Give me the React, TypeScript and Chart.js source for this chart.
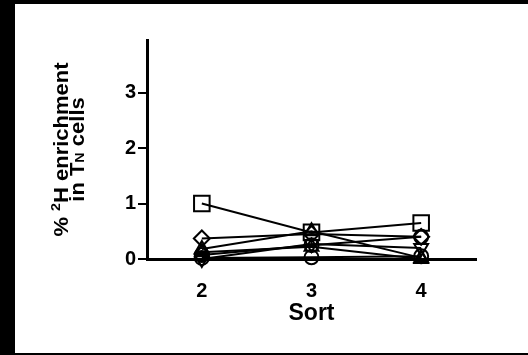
import React, { useEffect, useRef } from 'react';
import { Chart, registerables } from 'chart.js';

Chart.register(...registerables);

const sorts = [2, 3, 4];
const yTickValues = [0, 1, 2, 3];

const squareSeries = [1.0, 0.48, 0.65];
const diamondSeries = [0.37, 0.45, 0.4];
const triUpSeries = [0.18, 0.5, 0.02];
const triDownSeries = [0.0, 0.27, 0.2];
const circleSeries = [0.07, 0.25, 0.4];
const circle2Series = [0.02, 0.03, 0.05];
const tri2Series = [0.12, 0.22, 0.0];

const FAM = '"Liberation Sans", Arial, Helvetica, sans-serif';

export default function App() {
  const ref = useRef<HTMLCanvasElement>(null);

  useEffect(() => {
    if (!ref.current) return;
    const mk = (vals: number[], style: string, radius: number, rotation = 0) => ({
      data: sorts.map((x, i) => ({ x, y: vals[i] })),
      pointStyle: style,
      pointRadius: radius,
      pointRotation: rotation,
      borderColor: '#000',
      backgroundColor: 'rgba(0,0,0,0)',
      pointBorderColor: '#000',
      pointBackgroundColor: 'rgba(0,0,0,0)',
      pointBorderWidth: 2,
      borderWidth: 2,
      clip: false,
      tension: 0,
    });

    const yTitle = {
      id: 'yTitle',
      afterDraw(chart: any) {
        const ctx = chart.ctx as CanvasRenderingContext2D;
        const cy = (chart.chartArea.top + chart.chartArea.bottom) / 2;
        const big = `bold 20px ${FAM}`;
        const small = `bold 13px ${FAM}`;
        const drawLine = (segs: { t: string; f: string; dy: number }[], v: number) => {
          let total = 0;
          for (const s of segs) {
            ctx.font = s.f;
            total += ctx.measureText(s.t).width;
          }
          let u = -total / 2;
          for (const s of segs) {
            ctx.font = s.f;
            ctx.fillText(s.t, u, v + s.dy);
            u += ctx.measureText(s.t).width;
          }
        };
        ctx.save();
        ctx.fillStyle = '#000';
        ctx.textBaseline = 'alphabetic';
        ctx.textAlign = 'left';
        ctx.translate(0, cy);
        ctx.rotate(-Math.PI / 2);
        ctx.scale(1.1, 1);
        drawLine(
          [
            { t: '% ', f: big, dy: 0 },
            { t: '2', f: small, dy: -8 },
            { t: 'H enrichment', f: big, dy: 0 },
          ],
          68
        );
        drawLine(
          [
            { t: 'in T', f: big, dy: 0 },
            { t: 'N', f: small, dy: 0 },
            { t: ' cells', f: big, dy: 0 },
          ],
          84
        );
        ctx.restore();
      },
    };

    const chart = new Chart(ref.current, {
      type: 'line',
      data: {
        datasets: [
          mk(squareSeries, 'rect', 11),
          mk(diamondSeries, 'rectRot', 8),
          mk(triUpSeries, 'triangle', 8),
          mk(triDownSeries, 'triangle', 8, 180),
          mk(circleSeries, 'circle', 7),
          mk(circle2Series, 'circle', 7),
          mk(tri2Series, 'triangle', 8),
        ] as any,
      },
      options: {
        responsive: false,
        animation: false,
        devicePixelRatio: 1,
        layout: { padding: { left: 0, top: 40, right: 52, bottom: 0 } },
        plugins: { legend: { display: false }, tooltip: { enabled: false } },
        scales: {
          x: {
            type: 'linear',
            min: 1.5,
            max: 4.5,
            afterBuildTicks: (s: any) => {
              s.ticks = sorts.map((v) => ({ value: v }));
            },
            grid: { display: false, drawTicks: false },
            border: { display: true, color: '#000', width: 3 },
            ticks: {
              color: '#000',
              font: { family: FAM, size: 20, weight: 'bold' },
              padding: 20,
              maxRotation: 0,
            },
            title: {
              display: true,
              text: 'Sort',
              color: '#000',
              font: { family: FAM, size: 23, weight: 'bold' },
              padding: { top: 0, bottom: 28 },
            },
            afterFit: (s: any) => {
              s.height = 96;
            },
          },
          y: {
            type: 'linear',
            min: 0,
            max: 3.95,
            afterBuildTicks: (s: any) => {
              s.ticks = yTickValues.map((v) => ({ value: v }));
            },
            grid: {
              display: true,
              drawOnChartArea: false,
              drawTicks: true,
              tickLength: 9,
              color: '#000',
              lineWidth: 2,
            },
            border: { display: true, color: '#000', width: 3 },
            ticks: {
              color: '#000',
              font: { family: FAM, size: 20, weight: 'bold' },
              padding: 2,
            },
            afterFit: (s: any) => {
              s.width = 147;
            },
          },
        },
      } as any,
      plugins: [yTitle],
    });
    return () => chart.destroy();
  }, []);

  return (
    <div style={{ position: 'fixed', left: 0, top: 0, width: 528, height: 355, background: '#000' }}>
      <div style={{ position: 'absolute', left: 15, top: 4, width: 513, height: 349, background: '#fff' }} />
      <canvas
        ref={ref}
        width={528}
        height={355}
        style={{ position: 'absolute', left: 0, top: 0, width: 528, height: 355 }}
      />
    </div>
  );
}
